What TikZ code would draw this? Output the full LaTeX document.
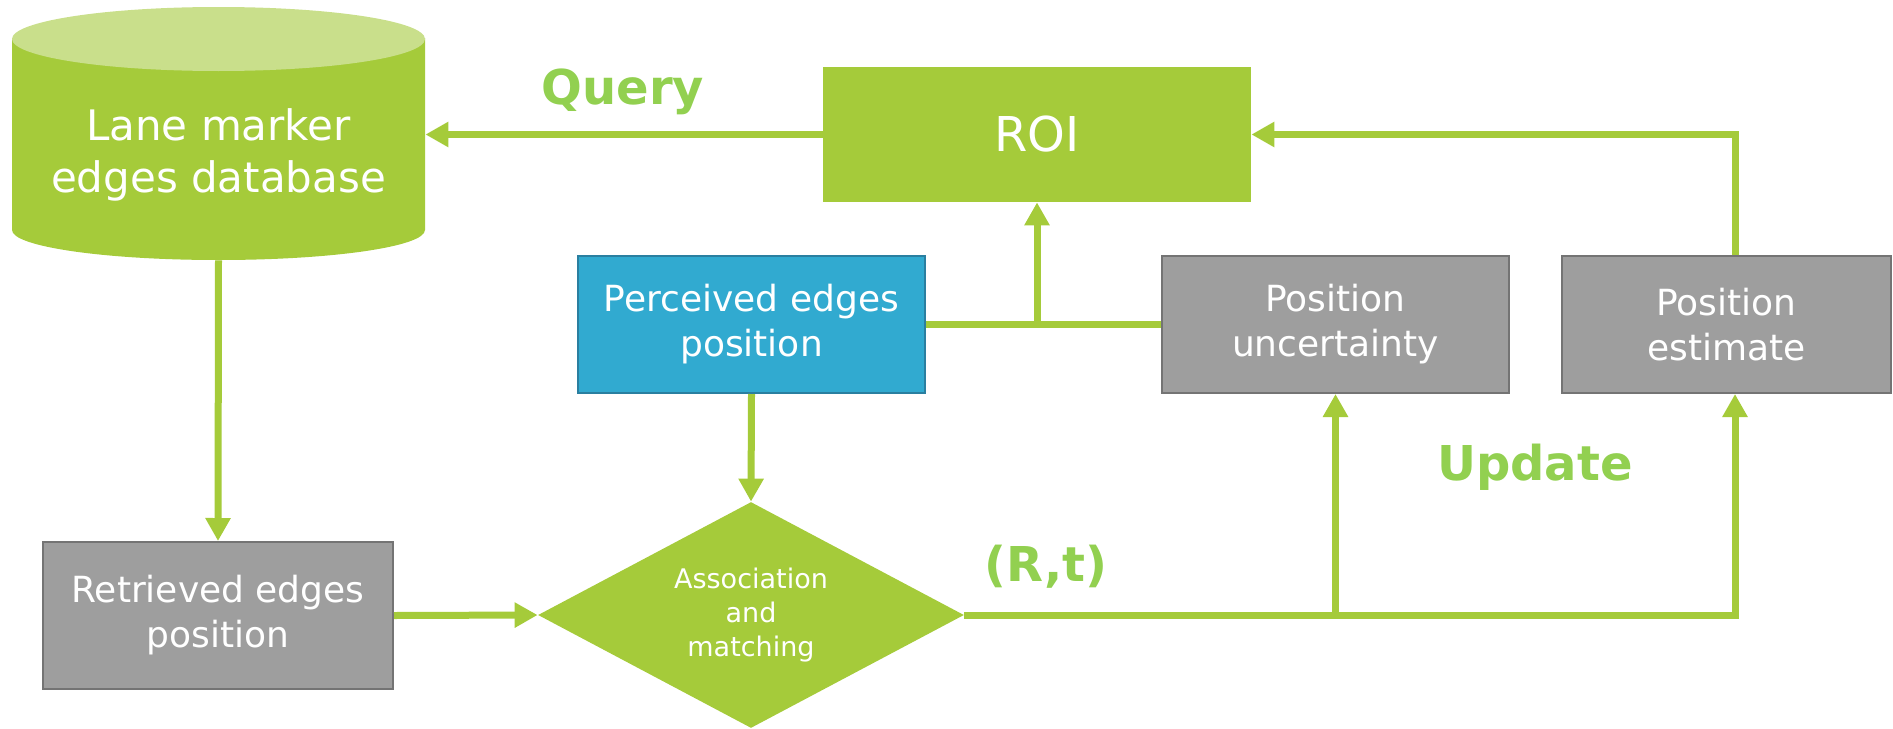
\documentclass[tikz,border=0pt]{standalone}
\usepackage{fontspec}
\setmainfont{DejaVu Sans}
\usetikzlibrary{shapes.geometric,arrows.meta,calc}

\definecolor{boxgreen}{HTML}{A5CB3A}
\definecolor{topgreen}{HTML}{C9DF8B}
\definecolor{labelgreen}{HTML}{92D050}
\definecolor{boxgray}{HTML}{9E9E9E}
\definecolor{graybord}{HTML}{747474}
\definecolor{boxblue}{HTML}{31AAD0}
\definecolor{bluebord}{HTML}{2A7FA0}

\tikzset{
  base/.style={rectangle, inner sep=0pt, text=white, align=center,
    font=\fontsize{18}{22.5}\selectfont},
  greybox/.style={base, fill=boxgray, draw=graybord, line width=1pt,
    minimum height=68.5pt},
  bluebox/.style={base, fill=boxblue, draw=bluebord, line width=1pt,
    minimum height=68.5pt},
  greenbox/.style={base, fill=boxgreen},
  flow/.style={draw=boxgreen, line width=3.5pt},
  arr/.style={flow, -{Triangle[width=12pt,length=11.5pt]}},
  tag/.style={text=labelgreen, font=\bfseries\fontsize{24}{28}\selectfont}
}

\begin{document}
\begin{tikzpicture}[x=0.5pt, y=-0.5pt]
  \useasboundingbox (0,0) rectangle (1893,728);

  % database cylinder (y axis points down, so the lower rim runs 180 -> 0)
  \fill[boxgreen] (12,38) -- (12,230) arc[start angle=180, end angle=0,
      x radius=206.5, y radius=30] -- (425,38) -- cycle;
  \fill[topgreen] (218.5,39) ellipse[x radius=206.5, y radius=32];
  \node[rectangle, minimum width=206.5pt, minimum height=126.5pt, inner sep=0pt]
      (db) at (218.5,133.5) {};
  \node[text=white, align=center, font=\fontsize{21}{26}\selectfont]
      (dbtext) at (218.5,155) {Lane marker\\edges database};

  % boxes
  \node[greenbox, minimum width=214pt, minimum height=67.5pt,
      font=\fontsize{24}{28}\selectfont] (roi) at (1037,134.5) {ROI};
  \node[bluebox, minimum width=173.5pt] (per) at (751.5,324.5)
      {Perceived edges\\position};
  \node[greybox, minimum width=173.5pt] (unc) at (1335.5,324.5)
      {Position\\uncertainty};
  \node[greybox, minimum width=164.5pt] (est) at (1726.5,324.5)
      {Position\\estimate};
  \node[greybox, minimum width=175pt, minimum height=73.5pt] (ret)
      at (218,615.5) {Retrieved edges\\position};
  \node[diamond, fill=boxgreen, text=white, align=center, inner sep=0pt,
      aspect=1.885, minimum width=213pt, minimum height=113pt,
      font=\fontsize{13.5}{17}\selectfont] (dia) at (751,615)
      {Association\\and\\matching};

  % labels
  \node[tag] (query) at (623,92) {Query};
  \node[tag] (update) at (1535,467) {Update};
  \node[tag] (rt) at (1046,567) {(R,t)};

  % connectors
  \coordinate (estin) at ([xshift=4.25pt]est.south);
  \coordinate (estout) at ([xshift=4.25pt]est.north);

  \draw[arr] (roi.west) -- (roi.west -| db.east);
  \draw[arr] (db.south) -- (ret.north);
  \draw[arr] (ret.east) -- (dia.west);
  \draw[arr] (per.south) -- (dia.north);
  \draw[flow] (per.east) -- (unc.west);
  \draw[arr] (per.east -| roi.south) -- (roi.south);
  \draw[arr, line join=miter] (dia.east) -- (dia.east -| estin) -- (estin);
  \draw[arr] (dia.east -| unc.south) -- (unc.south);
  \draw[arr, line join=miter] (estout) -- (estout |- roi.east) -- (roi.east);
\end{tikzpicture}
\end{document}
